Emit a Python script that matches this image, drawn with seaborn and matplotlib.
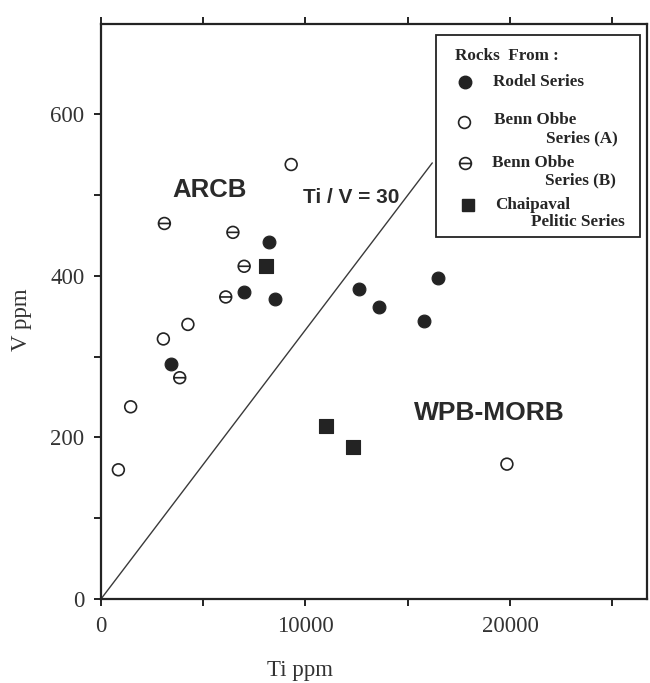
import pandas as pd
import seaborn as sns
import matplotlib.pyplot as plt
import matplotlib.ticker as mticker
from matplotlib.path import Path
from matplotlib.patches import Rectangle
from matplotlib.lines import Line2D

rodel_ti = [8200, 7000, 8500, 3400, 12600, 13600, 15800, 16500]
rodel_v = [442, 380, 371, 291, 384, 361, 344, 397]

benn_a_ti = [9300, 3050, 4250, 1450, 850, 19850]
benn_a_v = [538, 322, 340, 238, 160, 167]

benn_b_ti = [3100, 6450, 7000, 6100, 3850]
benn_b_v = [465, 454, 412, 374, 274]

chaip_ti = [8050, 11000, 12300]
chaip_v = [412, 214, 188]

# linha Ti/V = 30
razao = 30
linha_ti = [0, 16200]

COR = "#232323"
W, H = 650, 683


def px(x, y):
    """pixel da imagem -> fração da figura"""
    return x / W, 1 - y / H


df = pd.concat([
    pd.DataFrame({"Ti": rodel_ti, "V": rodel_v, "grupo": "rodel"}),
    pd.DataFrame({"Ti": benn_a_ti, "V": benn_a_v, "grupo": "benn_a"}),
    pd.DataFrame({"Ti": benn_b_ti, "V": benn_b_v, "grupo": "benn_b"}),
    pd.DataFrame({"Ti": chaip_ti, "V": chaip_v, "grupo": "chaip"}),
])

# círculo cortado por uma linha horizontal
theta = Path.make_compound_path(
    Path.unit_circle(),
    Path([[-1, 0], [1, 0]], [Path.MOVETO, Path.LINETO]),
)

sns.set_style("ticks")
plt.rcParams["font.family"] = ["Liberation Serif", "DejaVu Serif"]

fig = plt.figure(figsize=(6.5, 6.83), dpi=100)
ax = fig.add_axes([101 / W, 1 - 599 / H, (647 - 101) / W, (599 - 24) / H])

estilos = {
    "rodel": dict(marker="o", s=85, color=COR, edgecolor=COR, linewidth=0.8),
    "benn_a": dict(marker="o", s=72, facecolor="none", edgecolor=COR, linewidth=1.2),
    "benn_b": dict(marker=theta, s=72, facecolor="none", edgecolor=COR, linewidth=1.2),
    "chaip": dict(marker="s", s=95, color=COR, edgecolor=COR, linewidth=0.8),
}
for grupo, kw in estilos.items():
    sns.scatterplot(data=df[df["grupo"] == grupo], x="Ti", y="V", ax=ax,
                    legend=False, zorder=3, **kw)

ax.plot(linha_ti, [t / razao for t in linha_ti], color="#3a3a3a", lw=1.0)

ax.set_xlim(0, 26700)
ax.set_ylim(0, 712)

ax.xaxis.set_major_locator(mticker.FixedLocator([0, 10000, 20000]))
ax.xaxis.set_minor_locator(mticker.FixedLocator([5000, 15000, 25000]))
ax.yaxis.set_major_locator(mticker.FixedLocator([0, 200, 400, 600]))
ax.yaxis.set_minor_locator(mticker.FixedLocator([100, 300, 500]))

ax.tick_params(which="both", direction="out", length=5, width=1.4, color=COR,
               labelsize=16.5, labelcolor="#333333", pad=7)
ax.tick_params(axis="x", which="both", top=True, bottom=True)
ax.tick_params(axis="y", which="both", left=True, right=False)

for sp in ax.spines.values():
    sp.set_linewidth(1.6)
    sp.set_color(COR)

ax.set_xlabel("Ti ppm", fontsize=16.5, color="#333333")
ax.set_ylabel("V ppm", fontsize=16.5, color="#333333")
ax.xaxis.set_label_coords(0.364, -0.106)
ax.yaxis.set_label_coords(-0.127, 0.485)

# rótulos dos campos
sans = dict(family=["Liberation Sans", "DejaVu Sans"], weight="bold", color="#2a2a2a")
ax.text(5300, 506, "ARCB", fontsize=18.5, ha="center", va="center", **sans)
ax.text(12250, 497, "Ti / V = 30", fontsize=15, ha="center", va="center", **sans)
ax.text(19000, 230, "WPB-MORB", fontsize=19, ha="center", va="center", **sans)

# --- legenda desenhada à mão ---
x0, y0 = px(436, 237)
x1, y1 = px(640, 35)
fig.add_artist(Rectangle((x0, y0), x1 - x0, y1 - y0, transform=fig.transFigure,
                         fill=False, lw=1.3, ec=COR))

serif_b = dict(family=["Liberation Serif", "DejaVu Serif"], weight="bold",
               fontsize=12.3, color="#262626", ha="left", va="center")
fig.text(*px(455, 56), "Rocks  From :", **serif_b)

itens = [
    ((465, 82), dict(marker="o", ms=9, mfc=COR, mec=COR), [((493, 82), "Rodel Series")]),
    ((464, 122), dict(marker="o", ms=8.5, mfc="none", mec=COR, mew=1.2),
     [((494, 120), "Benn Obbe"), ((546, 138), "Series (A)")]),
    ((465, 163), dict(marker=theta, ms=8.5, mfc="none", mec=COR, mew=1.2),
     [((492, 163), "Benn Obbe"), ((545, 180), "Series (B)")]),
    ((468, 205), dict(marker="s", ms=9, mfc=COR, mec=COR),
     [((495, 205), "Chaipaval"), ((531, 222), "Pelitic Series")]),
]
for (mx, my), mkw, textos in itens:
    fx, fy = px(mx, my)
    fig.add_artist(Line2D([fx], [fy], transform=fig.transFigure, ls="", **mkw))
    for (tx, ty), s in textos:
        fig.text(*px(tx, ty), s, **serif_b)

plt.savefig("out.png", dpi=100)
plt.close()
